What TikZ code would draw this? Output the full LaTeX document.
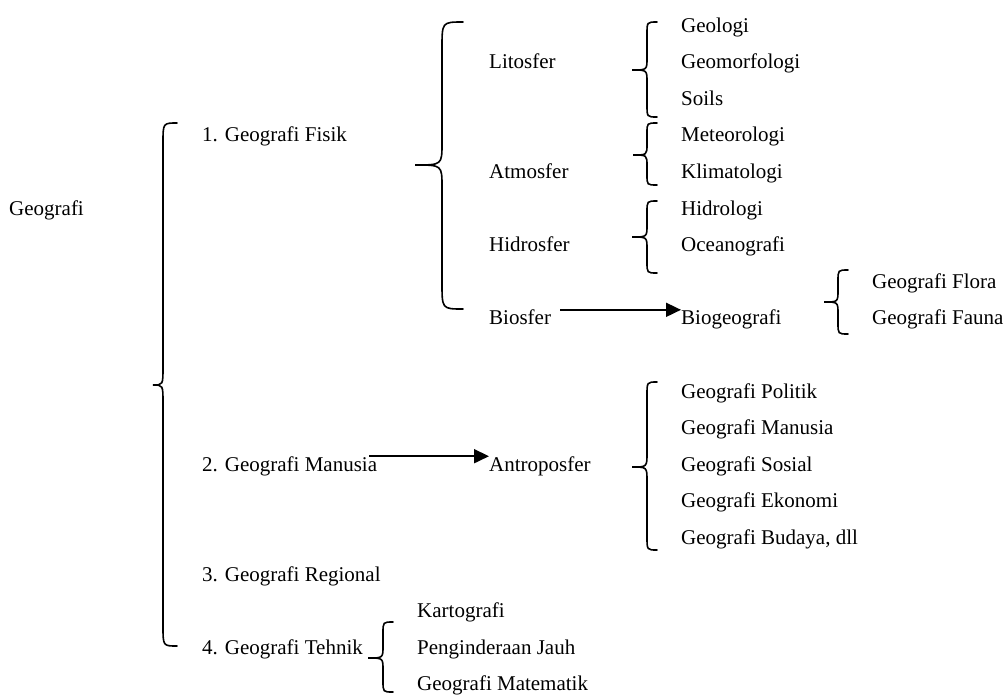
\documentclass[tikz,border=0pt]{standalone}
\usepackage{fontspec}
\setmainfont{Liberation Serif}
\usetikzlibrary{arrows.meta}
% brace: xe xv xt ytop ytip ybottom rEnd rTip
\newcommand\gbrace[8]{%
  \draw[bracestyle] (#1,#4) .. controls (#2,#4) and (#2,#4) .. (#2,#4+#7)
    -- (#2,#5-#8) .. controls (#2,#5) and (#2,#5) .. (#3,#5)
    .. controls (#2,#5) and (#2,#5) .. (#2,#5+#8)
    -- (#2,#6-#7) .. controls (#2,#6) and (#2,#6) .. (#1,#6);}
\begin{document}
\begin{tikzpicture}[x=1pt,y=-1pt,
  txt/.style={anchor=base west,inner sep=0pt,font=\fontsize{21}{25}\selectfont},
  bracestyle/.style={line width=1.6pt,line cap=round},
  arr/.style={line width=1.8pt,-{Triangle[length=15pt,width=14pt]}}]
\useasboundingbox (0,0) rectangle (1008,694);
% level 0
\node[txt] (geo) at (9,215) {Geografi};
% level 1
\node[txt] (fis) at (202,141.8) {1. Geografi Fisik};
\node[txt] (man) at (202,471.2) {2. Geografi Manusia};
\node[txt] (reg) at (202,581) {3. Geografi Regional};
\node[txt] (tek) at (202,654.2) {4. Geografi Tehnik};
% level 2
\node[txt] (lit) at (489,68.6) {Litosfer};
\node[txt] (atm) at (489,178.4) {Atmosfer};
\node[txt] (hid) at (489,251.6) {Hidrosfer};
\node[txt] (bio) at (489,324.8) {Biosfer};
\node[txt] (ant) at (489,471.2) {Antroposfer};
% level 3
\node[txt] (g1) at (681,32) {Geologi};
\node[txt] (g2) at (681,68.6) {Geomorfologi};
\node[txt] (g3) at (681,105.2) {Soils};
\node[txt] (a1) at (681,141.8) {Meteorologi};
\node[txt] (a2) at (681,178.4) {Klimatologi};
\node[txt] (h1) at (681,215) {Hidrologi};
\node[txt] (h2) at (681,251.6) {Oceanografi};
\node[txt] (bg) at (681,324.8) {Biogeografi};
\node[txt] (f1) at (872,288.2) {Geografi Flora};
\node[txt] (f2) at (872,324.8) {Geografi Fauna};
\node[txt] (m1) at (681,398) {Geografi Politik};
\node[txt] (m2) at (681,434.6) {Geografi Manusia};
\node[txt] (m3) at (681,471.2) {Geografi Sosial};
\node[txt] (m4) at (681,507.8) {Geografi Ekonomi};
\node[txt] (m5) at (681,544.4) {Geografi Budaya, dll};
\node[txt] (k1) at (417,617.6) {Kartografi};
\node[txt] (k2) at (417,654.2) {Penginderaan Jauh};
\node[txt] (k3) at (417,690.8) {Geografi Matematik};
% braces
\gbrace{177}{163}{153}{123}{385}{646}{20}{18}
\gbrace{463}{442}{415}{22}{165}{309}{26}{22}
\gbrace{657}{647}{632}{22}{70}{117}{12}{12}
\gbrace{657}{647}{633}{123}{155}{185}{10}{11}
\gbrace{657}{647}{632}{201}{237}{273}{11}{12}
\gbrace{848}{838}{824}{270}{302}{334}{11}{12}
\gbrace{657}{647}{632}{382}{467}{550}{13}{14}
\gbrace{393}{383}{368}{622}{658}{692}{11}{12}
% arrows
\draw[arr] ([xshift=9pt]bio.north east) -- (bg.north west);
\draw[arr] ([xshift=-8pt]man.north east) -- (ant.north west);
\end{tikzpicture}
\end{document}
